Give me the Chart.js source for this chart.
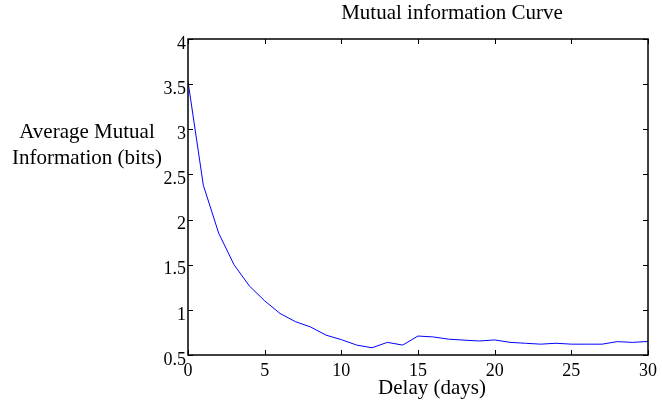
<!DOCTYPE html>
<html>
<head>
<meta charset="utf-8">
<script src="https://cdn.jsdelivr.net/npm/chart.js@4/dist/chart.umd.min.js"></script>
<style>
  html, body { margin: 0; padding: 0; background: #fff; }
  #wrap { width: 662px; height: 401px; position: relative; }
</style>
</head>
<body>
<div id="wrap"><canvas id="chart"></canvas></div>
<script>
// delay in days and average mutual information (bits)
const delays = [0, 1, 2, 3, 4, 5, 6, 7, 8, 9, 10, 11, 12, 13, 14, 15, 16, 17, 18, 19, 20, 21, 22, 23, 24, 25, 26, 27, 28, 29, 30];
const mutualInfo = [3.53, 2.38, 1.85, 1.50, 1.265, 1.10, 0.96, 0.87, 0.81, 0.72, 0.67, 0.61, 0.58, 0.64, 0.61, 0.71, 0.70, 0.675, 0.665, 0.655, 0.667, 0.64, 0.63, 0.62, 0.63, 0.62, 0.62, 0.62, 0.648, 0.64, 0.65];
const xTicks = [0, 5, 10, 15, 20, 25, 30];
const yTicks = [0.5, 1, 1.5, 2, 2.5, 3, 3.5, 4];

const serif = '"Liberation Serif", "Times New Roman", serif';

// box frame with inward ticks on all four sides, plus the text labels
const framePlugin = {
  id: 'frame',
  afterDraw(chart) {
    const ctx = chart.ctx;
    const a = chart.chartArea;
    const xs = chart.scales.x, ys = chart.scales.y;
    const tl = 5;
    ctx.save();
    ctx.strokeStyle = '#000';
    ctx.lineWidth = 1.5;
    ctx.strokeRect(a.left, a.top, a.right - a.left, a.bottom - a.top);
    ctx.lineWidth = 1;
    ctx.beginPath();
    xTicks.forEach(v => {
      const px = Math.round(xs.getPixelForValue(v)) + 0.5;
      ctx.moveTo(px, a.bottom); ctx.lineTo(px, a.bottom - tl);
      ctx.moveTo(px, a.top); ctx.lineTo(px, a.top + tl);
    });
    yTicks.forEach(v => {
      const py = Math.round(ys.getPixelForValue(v)) + 0.5;
      ctx.moveTo(a.left, py); ctx.lineTo(a.left + tl, py);
      ctx.moveTo(a.right, py); ctx.lineTo(a.right - tl, py);
    });
    ctx.stroke();

    ctx.fillStyle = '#000';
    ctx.font = '21px ' + serif;
    ctx.textAlign = 'center';
    ctx.textBaseline = 'middle';
    ctx.fillText('Mutual information Curve', 452, 13);
    ctx.fillText('Delay (days)', 432, 388);
    ctx.fillText('Average Mutual', 87, 132);
    ctx.fillText('Information (bits)', 87, 158);
    ctx.restore();
  }
};

new Chart(document.getElementById('chart'), {
  type: 'line',
  data: {
    datasets: [{
      data: delays.map((d, i) => ({ x: d, y: mutualInfo[i] })),
      borderColor: '#0000ff',
      borderWidth: 1,
      pointRadius: 0,
      fill: false,
      tension: 0
    }]
  },
  options: {
    responsive: true,
    maintainAspectRatio: false,
    animation: false,
    layout: { padding: { top: 39, right: 13, left: 0, bottom: 0 } },
    plugins: {
      legend: { display: false },
      tooltip: { enabled: false },
      title: { display: false }
    },
    scales: {
      x: {
        type: 'linear',
        min: 0,
        max: 30,
        afterFit(scale) { scale.height = 46; },
        afterBuildTicks(scale) { scale.ticks = xTicks.map(v => ({ value: v })); },
        grid: { display: false, drawTicks: false },
        border: { display: false },
        ticks: {
          autoSkip: false,
          maxRotation: 0,
          padding: 5,
          color: '#000',
          font: { family: serif, size: 18 },
          callback: v => String(v)
        }
      },
      y: {
        min: 0.5,
        max: 4,
        afterFit(scale) { scale.width = 188; },
        afterBuildTicks(scale) { scale.ticks = yTicks.map(v => ({ value: v })); },
        grid: { display: false, drawTicks: false },
        border: { display: false },
        ticks: {
          autoSkip: false,
          padding: 2,
          labelOffset: 5,
          color: '#000',
          font: { family: serif, size: 18 },
          callback: v => String(v)
        }
      }
    }
  },
  plugins: [framePlugin]
});
</script>
</body>
</html>
